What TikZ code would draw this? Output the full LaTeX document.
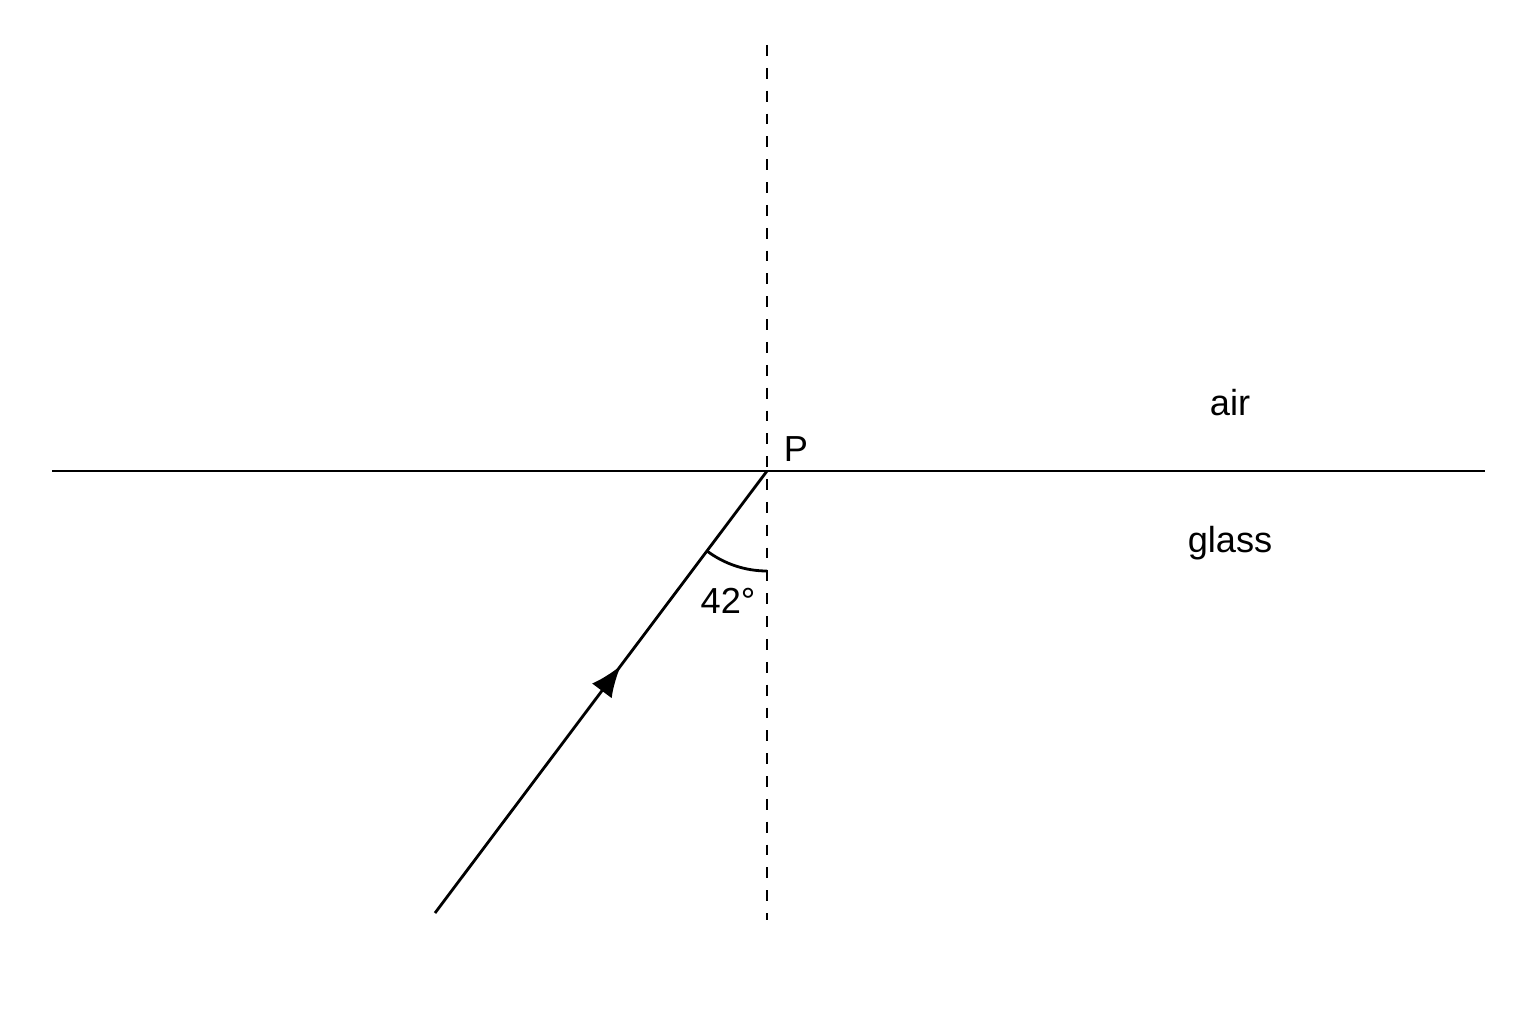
\documentclass[tikz,border=0pt]{standalone}
\usepackage{fontspec}
\setmainfont{Liberation Sans}
\usetikzlibrary{calc}
\usetikzlibrary{arrows.meta}
\usetikzlibrary{decorations.markings}
\tikzset{
  boundary/.style = {color=#1, line width=0.8pt},
  normal/.style = {color=#1, line width=0.8pt, dash pattern=on 3.1pt off 3.4pt},
  ray vec/.style = {color=#1, line width=0.8pt, postaction={decorate}, decoration={markings,mark=at position 0.56 with {\arrow{Latex[length=9pt,width=7pt]}}}},
  angle arc/.style = {color=#1, line width=0.8pt},
  label/.style = {font=\fontsize{10.3}{12}\selectfont, inner sep=1pt}
}

\begin{document}
\begin{tikzpicture}
    \useasboundingbox (0,0) rectangle (15.36,10.24);

    % Coordinates
    \coordinate (P) at (7.67,5.53);
    \coordinate (L) at (0.52,5.53);
    \coordinate (R) at (14.85,5.53);
    \coordinate (N1) at (7.67,9.79);
    \coordinate (N2) at (7.67,1.04);
    \coordinate (S) at (4.35,1.11);

    % Boundary and normal
    \draw[boundary={black}] (L) -- (R);
    \draw[normal={black}] (N1) -- (N2);

    % Incident ray
    \draw[ray vec={black}] (S) -- (P);

    % Angle
    \draw[angle arc={black}] ($(P)+(233.1:1)$) arc (233.1:270:1);

    % Labels
    \node[label] (lP) at (7.96,5.75) {P};
    \node[label] (lair) at (12.30,6.21) {air};
    \node[label] (lglass) at (12.30,4.81) {glass};
    \node[label] (lang) at (7.28,4.23) {42°};

\end{tikzpicture}
\end{document}
